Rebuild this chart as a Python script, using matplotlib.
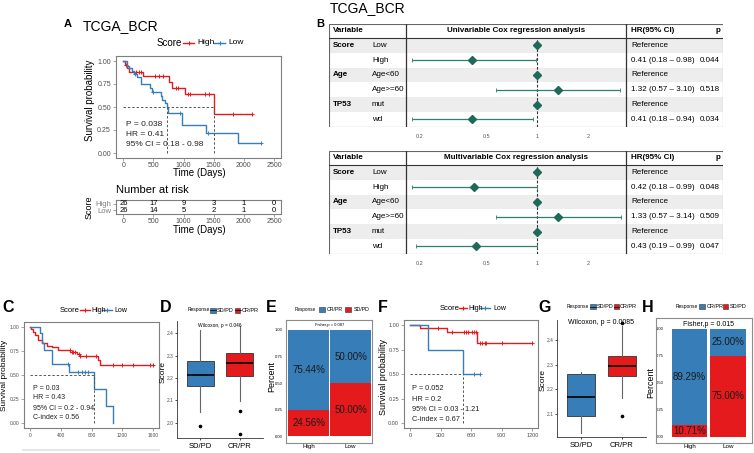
import numpy as np
import matplotlib.pyplot as plt
from matplotlib.patches import Rectangle
from matplotlib.lines import Line2D

plt.rcParams['font.family'] = ['Liberation Sans', 'DejaVu Sans']

RED = '#E41A1C'
BLUE = '#377EB8'
TEAL = '#1d6a5a'
GREY = '#4D4D4D'

# ---------------- data ----------------
# panel A, KM steps (time, survival) and censor times
A_high_t = [0, 30, 60, 100, 330, 760, 800, 1020, 1500, 2135]
A_high_s = [1.0, 0.96, 0.92, 0.88, 0.84, 0.77, 0.71, 0.64, 0.42, 0.42]
A_high_cens = [50, 210, 265, 300, 520, 595, 660, 880, 910, 1070, 1100, 1350, 1430, 1815, 2135]
A_low_t = [0, 55, 90, 150, 175, 220, 287, 440, 468, 620, 650, 690, 720, 740, 975, 1370, 1900, 2290]
A_low_s = [1.0, 0.95, 0.92, 0.89, 0.86, 0.83, 0.75, 0.71, 0.66, 0.62, 0.58, 0.54, 0.50, 0.44,
           0.30, 0.22, 0.11, 0.11]
A_low_cens = [195, 500, 940, 1400, 2290]
A_notes = ['P = 0.038', 'HR = 0.41', '95% CI = 0.18 - 0.98']
risk_times = [0, 500, 1000, 1500, 2000, 2500]
risk_high = [26, 17, 9, 3, 1, 0]
risk_low = [26, 14, 5, 2, 1, 0]

# panel B, forest tables
variables = ['Score', '', 'Age', '', 'TP53', '']
levels = ['Low', 'High', 'Age<60', 'Age>=60', 'mut', 'wd']
uni_hr = [1, 0.41, 1, 1.32, 1, 0.41]
uni_lo = [np.nan, 0.18, np.nan, 0.57, np.nan, 0.18]
uni_hi = [np.nan, 0.98, np.nan, 3.10, np.nan, 0.94]
uni_p = ['', '0.044', '', '0.518', '', '0.034']
multi_hr = [1, 0.42, 1, 1.33, 1, 0.43]
multi_lo = [np.nan, 0.18, np.nan, 0.57, np.nan, 0.19]
multi_hi = [np.nan, 0.99, np.nan, 3.14, np.nan, 0.99]
multi_p = ['', '0.048', '', '0.509', '', '0.047']

# panel C
C_high_t = [0, 10, 40, 60, 100, 150, 220, 290, 360, 520, 610, 650, 880, 910, 1608]
C_high_s = [1.0, 0.98, 0.95, 0.91, 0.86, 0.83, 0.80, 0.79, 0.76, 0.74, 0.72, 0.70, 0.655, 0.60, 0.60]
C_high_cens = [518, 541, 564, 586, 632, 655, 723, 859, 1085, 1195, 1346, 1565, 1608]
C_low_t = [0, 132, 155, 177, 290, 510, 832, 990, 1077]
C_low_s = [1.0, 0.94, 0.83, 0.76, 0.61, 0.535, 0.357, 0.178, 0.0]
C_low_cens = [497, 628, 672, 715, 758]
C_notes = ['P = 0.03', 'HR = 0.43', '95% CI = 0.2 - 0.94', 'C-index = 0.56']

# panel D
resp_labels = ['SD/PD', 'CR/PR']
D_med = [2.212, 2.267]
D_q1 = [2.166, 2.21]
D_q3 = [2.275, 2.31]
D_lo = [2.047, 2.096]
D_hi = [2.415, 2.433]
D_out = [[1.985], [2.05, 1.95]]

# panel E / H
groups = ['High', 'Low']
E_crpr = [0.7544, 0.50]
E_sdpd = [0.2456, 0.50]
H_crpr = [0.8929, 0.25]
H_sdpd = [0.1071, 0.75]

# panel F
F_high_t = [0, 98, 360, 656, 1200]
F_high_s = [1.0, 0.966, 0.925, 0.82, 0.82]
F_high_cens = [180, 278, 410, 530, 550, 570, 610, 630, 645, 690, 705, 735, 750, 900, 1200]
F_low_t = [0, 174, 518, 688]
F_low_s = [1.0, 0.75, 0.50, 0.50]
F_low_cens = [632, 688]
F_notes = ['P = 0.052', 'HR = 0.2', '95% CI = 0.03 - 1.21', 'C-index = 0.67']

# panel G
G_med = [2.17, 2.296]
G_q1 = [2.09, 2.256]
G_q3 = [2.262, 2.334]
G_lo = [2.025, 2.163]
G_hi = [2.27, 2.455]
G_out = [[], [2.093, 2.467]]

# ---------------- figure ----------------
W, H = 754, 453
fig = plt.figure(figsize=(W / 100, H / 100), dpi=100)


def box(x0, y0, x1, y1):
    return fig.add_axes([x0 / W, 1 - y1 / H, (x1 - x0) / W, (y1 - y0) / H])


def txt(x, y, s, **kw):
    kw.setdefault('ha', 'center')
    kw.setdefault('va', 'center')
    fig.text(x / W, 1 - y / H, s, **kw)


def fline(x0, x1, y, **kw):
    fig.add_artist(Line2D([x0 / W, x1 / W], [1 - y / H, 1 - y / H], **kw))


def km_legend(y, fs, fs2, pos):
    txt(pos[0], y, 'Score', fontsize=fs, ha='left')
    for (a, b), lab, col, xl in zip(pos[1], groups, [RED, BLUE], pos[2]):
        fline(a, b, y, color=col, lw=1)
        fig.add_artist(Line2D([(a + b) / 2 / W], [1 - y / H], marker='+', color=col, ms=3, mew=0.8))
        txt(xl, y, lab, fontsize=fs2, ha='left')


def resp_legend(y, items, fs, fs2, glyph=False):
    txt(items[0], y, 'Response', fontsize=fs, ha='left')
    for xk, lab, col, xl in items[1]:
        fig.add_artist(Rectangle((xk / W, 1 - (y + 2.5) / H), 5.5 / W, 5 / H, facecolor=col,
                                 edgecolor='#333333', lw=0.4))
        if glyph:
            fline(xk, xk + 5.5, y, color='black', lw=0.5)
        txt(xl, y, lab, fontsize=fs2, ha='left')


def km_axes(ax, curves, xlim, xticks, fs):
    for t, s, cens, col in curves:
        t = np.asarray(t)
        s = np.asarray(s)
        ax.step(t, s, where='post', color=col, lw=1.0)
        idx = np.searchsorted(t, cens, side='right') - 1
        ax.plot(cens, s[idx], ls='none', marker='+', color=col, ms=3.2, mew=0.7)
    meds = [np.asarray(t)[np.argmax(np.asarray(s) <= 0.5)] for t, s, _, _ in curves
            if min(s) <= 0.5]
    ax.plot([0, max(meds)], [0.5, 0.5], ls='--', color='#555555', lw=0.7, dashes=(2.5, 2))
    for m in meds:
        ax.plot([m, m], [0, 0.5], ls='--', color='#555555', lw=0.7, dashes=(2.5, 2))
    ax.set_xlim(*xlim)
    ax.set_ylim(-0.05, 1.05)
    ax.set_xticks(xticks)
    ax.set_xticklabels([str(v) for v in xticks])
    ax.set_yticks([0, 0.25, 0.5, 0.75, 1.0])
    ax.set_yticklabels(['0.00', '0.25', '0.50', '0.75', '1.00'])
    ax.tick_params(labelsize=fs, colors='#7F7F7F', labelcolor=GREY, length=2, width=0.5, pad=1.5)
    for sp in ax.spines.values():
        sp.set_color('#7F7F7F')
        sp.set_linewidth(0.8)


# ---- panel A ----
txt(68, 24, 'A', fontsize=8, fontweight='bold')
txt(83, 26, 'TCGA_BCR', fontsize=10, ha='left')
km_legend(43, 7, 6, (157, [(183, 194), (214, 225)], [197, 228]))
axA = box(115.8, 56.4, 281.5, 157.6)
km_axes(axA, [(A_high_t, A_high_s, A_high_cens, RED), (A_low_t, A_low_s, A_low_cens, BLUE)],
        (-125, 2625), risk_times, 5)
for i, s in enumerate(A_notes):
    axA.text(50, [0.31, 0.2, 0.09][i], s, fontsize=6, va='center', color='#222222')
txt(90, 100, 'Survival probability', fontsize=7, rotation=90)
txt(199, 173, 'Time (Days)', fontsize=7)

txt(115.5, 190, 'Number at risk', fontsize=8, ha='left')
axR = box(115.8, 200, 281.5, 214)
axR.set_xlim(-125, 2625)
axR.set_ylim(0, 2)
for tt, a, b in zip(risk_times, risk_high, risk_low):
    axR.text(tt, 1.45, str(a), fontsize=5.5, ha='center', va='center')
    axR.text(tt, 0.55, str(b), fontsize=5.5, ha='center', va='center')
axR.set_xticks(risk_times)
axR.set_xticklabels([str(v) for v in risk_times])
axR.set_yticks([1.45, 0.55])
axR.set_yticklabels(groups)
for lab, col in zip(axR.get_yticklabels(), [RED, BLUE]):
    lab.set_color(col)
axR.tick_params(labelsize=5, colors='#7F7F7F', length=2, width=0.5, pad=1.2)
axR.tick_params(axis='x', labelcolor=GREY)
axR.tick_params(axis='y', labelsize=5.5)
for sp in axR.spines.values():
    sp.set_color('#7F7F7F')
    sp.set_linewidth(0.8)
txt(199, 230, 'Time (Days)', fontsize=7)
txt(89, 207, 'Score', fontsize=6.5, rotation=90)


# ---- panel B ----
txt(320, 24, 'B', fontsize=8, fontweight='bold')
txt(330, 8, 'TCGA_BCR', fontsize=10, ha='left')


def forest(y0, title, hr, lo, hi, pv):
    hdr, rh = 14, 14.8
    x0, xa, xb, x1 = 329, 405.7, 626, 723
    y1 = y0 + hdr + 6 * rh
    ax = box(x0, y0, x1, y1)
    ax.set_xlim(x0, x1)
    ax.set_ylim(y1, y0)
    ax.axis('off')
    fs = 5.8
    for i in range(6):
        top = y0 + hdr + i * rh
        if i % 2 == 0:
            ax.add_patch(Rectangle((x0, top), x1 - x0, rh, facecolor='#EDEDED', lw=0))
        yc = top + rh / 2
        ax.text(x0 + 4, yc, variables[i], fontsize=fs, fontweight='bold', va='center')
        ax.text(x0 + 43, yc, levels[i], fontsize=fs, va='center')
        if np.isnan(lo[i]):
            ax.text(xb + 5, yc, 'Reference', fontsize=fs, va='center')
        else:
            ax.text(xb + 5, yc, f'{hr[i]:.2f} ({lo[i]:.2f} \u2013 {hi[i]:.2f})', fontsize=fs, va='center')
        ax.text(x1 - 3, yc, pv[i], fontsize=fs, va='center', ha='right')
    yh = y0 + hdr / 2
    ax.text(x0 + 4, yh, 'Variable', fontsize=fs, fontweight='bold', va='center')
    ax.text((xa + xb) / 2, yh, title, fontsize=fs, fontweight='bold', va='center', ha='center')
    ax.text(xb + 5, yh, 'HR(95% CI)', fontsize=fs, fontweight='bold', va='center')
    ax.text(x1 - 3, yh, 'p', fontsize=fs, fontweight='bold', va='center', ha='right')
    ax.add_patch(Rectangle((x0, y0), x1 - x0, y1 - y0, fill=False, edgecolor='#666666', lw=0.8))
    ax.plot([x0, x1], [y0 + hdr, y0 + hdr], color='#333333', lw=0.8)
    ax.plot([xa, xa], [y0, y1], color='#333333', lw=0.9)
    ax.plot([xb, xb], [y0, y1], color='#333333', lw=0.9)

    fa = box(xa, y0 + hdr, xb, y1)
    fa.set_xscale('log')
    fa.set_xlim(0.165, 3.37)
    fa.set_ylim(6, 0)
    fa.patch.set_alpha(0)
    for sp in fa.spines.values():
        sp.set_visible(False)
    fa.set_yticks([])
    fa.set_xticks([0.2, 0.5, 1, 2])
    fa.set_xticklabels(['0.2', '0.5', '1', '2'])
    fa.minorticks_off()
    fa.tick_params(axis='x', length=0, labelsize=4, labelcolor='#555555', pad=5)
    fa.axvline(1, ls='--', color='#333333', lw=0.8, dashes=(2.5, 1.5))
    yy = np.arange(6) + 0.5
    hr_a, lo_a, hi_a = np.asarray(hr), np.asarray(lo), np.asarray(hi)
    ok = ~np.isnan(lo_a)
    fa.errorbar(hr_a[ok], yy[ok], xerr=[hr_a[ok] - lo_a[ok], hi_a[ok] - hr_a[ok]], fmt='none',
                ecolor='#2f7f6e', elinewidth=0.9, capsize=1.2, capthick=0.6)
    fa.plot(hr_a, yy, ls='none', marker='D', ms=4, color=TEAL)


forest(24, 'Univariable Cox regression analysis', uni_hr, uni_lo, uni_hi, uni_p)
forest(151, 'Multivariable Cox regression analysis', multi_hr, multi_lo, multi_hi, multi_p)


# ---- panel C ----
txt(8, 307, 'C', fontsize=11.5, fontweight='bold')
km_legend(310, 5.5, 5, (60, [(80, 90), (102, 112)], [91, 114]))
axC = box(24.2, 321.9, 158.8, 428.1)
km_axes(axC, [(C_high_t, C_high_s, C_high_cens, RED), (C_low_t, C_low_s, C_low_cens, BLUE)],
        (-80, 1680), [0, 400, 800, 1200, 1600], 3.5)
for i, s in enumerate(C_notes):
    axC.text(35, [0.355, 0.262, 0.158, 0.055][i], s, fontsize=5, va='center', color='#222222')
txt(5, 375, 'Survival probability', fontsize=6, rotation=90)
fline(23, 159, 450, color='#E6E6E6', lw=1.5)


def box_panel(ax, med, q1, q3, lo, hi, out, ylim, yticks, width):
    stats = [dict(med=m, q1=a, q3=b, whislo=c, whishi=d, fliers=f)
             for m, a, b, c, d, f in zip(med, q1, q3, lo, hi, out)]
    bp = ax.bxp(stats, positions=[1, 2], widths=width, patch_artist=True, showcaps=False,
                boxprops=dict(linewidth=0.6, edgecolor='#333333'),
                medianprops=dict(color='black', linewidth=1.2),
                whiskerprops=dict(color='#666666', linewidth=0.8),
                flierprops=dict(marker='o', markersize=1.6, markerfacecolor='black',
                                markeredgecolor='black'))
    for p, c in zip(bp['boxes'], [BLUE, RED]):
        p.set_facecolor(c)
    ax.set_xlim(0.4, 2.6)
    ax.set_ylim(*ylim)
    ax.set_yticks(yticks)
    ax.set_yticklabels([f'{v:.1f}' for v in yticks])
    ax.set_xticks([1, 2])
    ax.set_xticklabels(resp_labels)
    ax.spines['top'].set_visible(False)
    ax.spines['right'].set_visible(False)
    for sp in ['left', 'bottom']:
        ax.spines[sp].set_color('#333333')
        ax.spines[sp].set_linewidth(0.6)
    ax.tick_params(axis='y', labelsize=3.5, length=1.5, width=0.5, pad=1, labelcolor=GREY)
    ax.tick_params(axis='x', labelsize=5.5, length=1.5, width=0.5, pad=2)


# ---- panel D ----
txt(166, 307, 'D', fontsize=11.5, fontweight='bold')
resp_legend(310, (188, [(210.5, 'SD/PD', BLUE, 217), (235, 'CR/PR', RED, 242)]), 3.5, 4, glyph=True)
axD = box(177, 320.7, 263, 438.3)
box_panel(axD, D_med, D_q1, D_q3, D_lo, D_hi, D_out, (1.930, 2.456), [2.0, 2.1, 2.2, 2.3, 2.4], 0.67)
axD.text(1.5, 2.436, 'Wilcoxon, p = 0.046', fontsize=3.5, ha='center', va='center')
txt(163.5, 372, 'Score', fontsize=6, rotation=90)


def bar_panel(ax, crpr, sdpd, width, fs, fisher, fisher_fs, xlim, ylim):
    x = np.arange(1, len(groups) + 1)
    ax.bar(x, sdpd, width=width, color=RED)
    ax.bar(x, crpr, bottom=sdpd, width=width, color=BLUE)
    for xi, a, b in zip(x, crpr, sdpd):
        ax.text(xi, b / 2, f'{b * 100:.2f}%', fontsize=fs, ha='center', va='center', color='#1a1a1a')
        ax.text(xi, b + a / 2, f'{a * 100:.2f}%', fontsize=fs, ha='center', va='center', color='#1a1a1a')
    ax.text(1.5, 1.045, fisher, fontsize=fisher_fs, ha='center', va='center')
    ax.set_xlim(*xlim)
    ax.set_ylim(*ylim)
    ax.set_xticks(x)
    ax.set_xticklabels(groups)
    ax.set_yticks([0, 0.25, 0.5, 0.75, 1.0])
    ax.set_yticklabels(['0.00', '0.25', '0.50', '0.75', '1.00'])
    for sp in ax.spines.values():
        sp.set_color('#8C8C8C')
        sp.set_linewidth(0.8)


# ---- panel E ----
txt(271, 307, 'E', fontsize=11.5, fontweight='bold')
resp_legend(309.5, (295, [(319, 'CR/PR', BLUE, 326.5), (345, 'SD/PD', RED, 353.5)]), 3.3, 3.8)
axE = box(285.7, 320, 372.3, 443)
bar_panel(axE, E_crpr, E_sdpd, 0.97, 7, 'Fisher,p = 0.087', 3, (0.45, 2.52), (-0.062, 1.093))
axE.tick_params(axis='y', labelsize=3, length=0, pad=2)
axE.tick_params(axis='x', labelsize=4.5, length=0, pad=0.8)
txt(272, 377, 'Percent', fontsize=6.5, rotation=90)

# ---- panel F ----
txt(383, 307, 'F', fontsize=11.5, fontweight='bold')
km_legend(308, 5.5, 5, (440, [(459, 467), (480, 490)], [468, 493]))
axF = box(403.9, 320.1, 538.4, 428.2)
km_axes(axF, [(F_high_t, F_high_s, F_high_cens, RED), (F_low_t, F_low_s, F_low_cens, BLUE)],
        (-60, 1260), [0, 300, 600, 900, 1200], 4)
for i, s in enumerate(F_notes):
    axF.text(17, [0.356, 0.244, 0.142, 0.034][i], s, fontsize=5.3, va='center', color='#222222')
txt(383, 377, 'Survival probability', fontsize=6.5, rotation=90)

# ---- panel G ----
txt(544.5, 307, 'G', fontsize=11.5, fontweight='bold')
resp_legend(306.7, (566.5, [(590, 'SD/PD', BLUE, 596.5), (613.5, 'CR/PR', RED, 620)]), 3.5, 4, glyph=True)
axG = box(557, 320, 646, 436.7)
box_panel(axG, G_med, G_q1, G_q3, G_lo, G_hi, G_out, (2.008, 2.481), [2.1, 2.2, 2.3, 2.4], 0.7)
axG.text(1.5, 2.471, 'Wilcoxon, p = 0.0085', fontsize=5, ha='center', va='center')
axG.tick_params(axis='x', labelsize=5.5)
txt(543.5, 380, 'Score', fontsize=6, rotation=90)

# ---- panel H ----
txt(648, 307, 'H', fontsize=11.5, fontweight='bold')
resp_legend(306.7, (676, [(699, 'CR/PR', BLUE, 706.5), (722.5, 'SD/PD', RED, 729.5)]), 3.5, 4)
axH = box(655.7, 318.3, 752.3, 442.7)
bar_panel(axH, H_crpr, H_sdpd, 0.92, 7, 'Fisher,p = 0.015', 5, (0.13, 2.62), (-0.056, 1.099))
axH.tick_params(axis='y', labelsize=3, length=0, pad=-6)
axH.tick_params(axis='x', labelsize=4.5, length=0, pad=1)
txt(651, 383, 'Percent', fontsize=6.5, rotation=90)

fig.savefig('out.png', dpi=100)
